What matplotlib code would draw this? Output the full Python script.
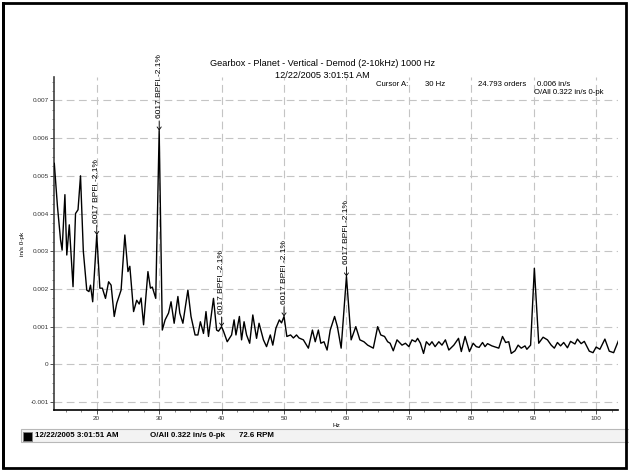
import matplotlib
matplotlib.use('Agg')
import matplotlib.pyplot as plt
from matplotlib.patches import Rectangle
from matplotlib.ticker import MultipleLocator, FuncFormatter
import numpy as np

plt.rcParams['font.family'] = ['Liberation Sans', 'DejaVu Sans']

# spectrum (Hz, in/s 0-pk)
freq_hz = [13.2, 13.7, 14.2, 14.45, 14.9, 15.2, 15.6, 16.2, 16.6, 17.0,
           17.4, 17.85, 18.4, 18.75, 19.0, 19.35, 20.0, 20.5, 20.9, 21.4,
           21.9, 22.3, 22.8, 23.2, 23.9, 24.5, 25.0, 25.3, 25.9, 26.4,
           26.8, 27.1, 27.5, 28.2, 28.6, 28.9, 29.45, 30.0, 30.5, 30.95,
           31.5, 31.9, 32.4, 33.0, 33.3, 33.8, 34.6, 35.1, 35.75, 36.2,
           36.6, 37.1, 37.5, 37.9, 38.7, 39.2, 39.5, 40.0, 40.3, 40.9,
           41.6, 42.0, 42.3, 42.85, 43.2, 43.6, 44.0, 44.5, 45.0, 45.6,
           46.0, 46.7, 47.2, 47.8, 48.2, 48.7, 49.25, 49.6, 50.0, 50.45,
           51.05, 51.5, 52.0, 52.4, 53.1, 53.9, 54.55, 55.0, 55.5, 55.9,
           56.4, 56.9, 57.4, 58.1, 58.55, 59.15, 60.0, 60.75, 61.5, 62.15,
           62.8, 63.4, 64.3, 65.0, 65.5, 66.1, 66.6, 67.0, 67.5, 68.1,
           68.9, 69.45, 70.0, 70.5, 71.05, 71.4, 71.85, 72.35, 72.8, 73.3,
           73.7, 74.2, 74.8, 75.3, 75.85, 76.4, 77.2, 77.95, 78.4, 79.0,
           79.7, 80.3, 80.8, 81.25, 81.8, 82.2, 82.6, 83.3, 84.4, 85.0,
           85.5, 86.0, 86.4, 87.0, 87.5, 88.0, 88.6, 88.9, 89.5, 90.1,
           90.8, 91.5, 92.2, 92.8, 93.3, 93.8, 94.3, 94.8, 95.4, 95.9,
           96.6, 97.0, 97.6, 98.1, 98.9, 99.5, 100.0, 100.6, 101.4, 102.1,
           102.8, 103.6]
amp_ips = [0.00533, 0.0042, 0.0033, 0.00303, 0.0045, 0.0029, 0.0037, 0.00206, 0.0040, 0.0041,
           0.0050, 0.0030, 0.00197, 0.00193, 0.0021, 0.00166, 0.00343, 0.00202, 0.00202, 0.00175,
           0.00219, 0.0021, 0.00127, 0.00162, 0.00197, 0.00343, 0.00246, 0.0026, 0.0014, 0.0017,
           0.0016, 0.00176, 0.00105, 0.00246, 0.00202, 0.00205, 0.00175, 0.0062, 0.00091, 0.00118,
           0.00136, 0.00166, 0.00109, 0.0018, 0.00136, 0.00109, 0.00197, 0.00127, 0.00078, 0.00078,
           0.00113, 0.00082, 0.0014, 0.00074, 0.00175, 0.00091, 0.00088, 0.0010, 0.00088, 0.0006,
           0.00078, 0.00118, 0.00078, 0.00127, 0.00065, 0.00113, 0.00078, 0.00056, 0.00131, 0.00069,
           0.00109, 0.00065, 0.00047, 0.00078, 0.00051, 0.00096, 0.00118, 0.0011, 0.00127, 0.00074,
           0.00078, 0.0007, 0.00078, 0.0007, 0.00065, 0.00043, 0.00091, 0.0006, 0.00091, 0.00056,
           0.0006, 0.00038, 0.00091, 0.00127, 0.001, 0.00043, 0.00233, 0.00065, 0.001, 0.00065,
           0.0006, 0.00051, 0.00043, 0.001, 0.00078, 0.00074, 0.0006, 0.00056, 0.00036, 0.00065,
           0.00051, 0.00056, 0.00047, 0.00065, 0.0006, 0.00069, 0.00056, 0.00029, 0.0006, 0.00051,
           0.0006, 0.00047, 0.0006, 0.00051, 0.00065, 0.00038, 0.00051, 0.00069, 0.00034, 0.00074,
           0.00034, 0.00056, 0.00047, 0.00045, 0.00058, 0.00047, 0.00055, 0.00049, 0.00043, 0.00074,
           0.00058, 0.0006, 0.00029, 0.00036, 0.00051, 0.00043, 0.00049, 0.0004, 0.00051, 0.00255,
           0.00056, 0.00072, 0.00065, 0.00051, 0.00043, 0.00058, 0.00049, 0.00058, 0.00044, 0.00061,
           0.00054, 0.00067, 0.00055, 0.00061, 0.00035, 0.00031, 0.00046, 0.0004, 0.00067, 0.00035,
           0.00031, 0.00064]

# fault frequency markers
marker_hz = [20, 30, 40, 50, 60]
marker_label = '6017 BPFI -2.1%'

title_1 = 'Gearbox - Planet - Vertical - Demod (2-10kHz) 1000 Hz'
title_2 = '12/22/2005 3:01:51 AM'
cursor_txt = ['Cursor A:', '30 Hz', '24.793 orders', '0.006 in/s']
overall_txt = 'O/All 0.322 in/s 0-pk'
legend_txt = ['12/22/2005 3:01:51 AM', 'O/All 0.322 in/s 0-pk', '72.6 RPM']

W, H = 629, 471
def fx(px): return px / W
def fy(py): return 1 - py / H

fig = plt.figure(figsize=(6.29, 4.71), dpi=100)
ax = fig.add_axes([fx(54.3), fy(410), fx(618) - fx(54.3), fy(77) - fy(410)])

ax.plot(freq_hz, amp_ips, color='black', lw=1.0, zorder=3)
ax.set_xlim(13.2, 103.5)
ax.set_ylim(-0.00121, 0.00762)

ax.xaxis.set_major_locator(MultipleLocator(10))
ax.xaxis.set_minor_locator(MultipleLocator(2.5))
ax.yaxis.set_major_locator(MultipleLocator(0.001))
ax.yaxis.set_minor_locator(MultipleLocator(0.00025))
ax.yaxis.set_major_formatter(FuncFormatter(lambda v, _: '0' if abs(v) < 1e-9 else f'{v:.3f}'))
ax.tick_params(which='major', direction='out', length=3, width=0.6, labelsize=4.6, pad=1,
               colors='#333333')
ax.tick_params(which='minor', direction='out', length=1.5, width=0.5, colors='#555555')
ax.grid(True, which='major', color='#c4c4c4', lw=0.8, linestyle=(0, (7, 4)))
ax.set_axisbelow(True)

for s in ['top', 'right']:
    ax.spines[s].set_visible(False)
ax.spines['left'].set_color('#404040')
ax.spines['left'].set_linewidth(1.2)
ax.spines['bottom'].set_color('black')
ax.spines['bottom'].set_linewidth(1.2)

ax.set_xlabel('Hz', fontsize=4.6, labelpad=2)
ax.set_ylabel('in/s 0-pk', fontsize=4.6, labelpad=4)

for f in marker_hz:
    v = np.interp(f, freq_hz, amp_ips)
    ax.annotate(marker_label, xy=(f, v), xytext=(0, 9), textcoords='offset points',
                rotation=90, ha='center', va='bottom', fontsize=6, zorder=4,
                arrowprops=dict(arrowstyle='->,head_length=0.35,head_width=0.25',
                                lw=0.6, color='black', shrinkA=0, shrinkB=0))

# header texts
fig.text(fx(322), fy(64), title_1, ha='center', va='center', fontsize=6.6)
fig.text(fx(322), fy(76), title_2, ha='center', va='center', fontsize=6.6)
fig.text(fx(408), fy(84), cursor_txt[0], ha='right', va='center', fontsize=5.6)
fig.text(fx(425), fy(84), cursor_txt[1], ha='left', va='center', fontsize=5.6)
fig.text(fx(478), fy(84), cursor_txt[2], ha='left', va='center', fontsize=5.6)
fig.text(fx(537), fy(84), cursor_txt[3], ha='left', va='center', fontsize=5.6)
fig.text(fx(534), fy(93), overall_txt, ha='left', va='center', fontsize=5.6)

# legend strip
fig.patches.append(Rectangle((fx(21), fy(442)), fx(629) - fx(21), fy(429) - fy(442),
                             transform=fig.transFigure, fc='#f3f3f3', ec='#b8b8b8', lw=0.8))
fig.patches.append(Rectangle((fx(23), fy(440.5)), fx(9), fy(432) - fy(440.5),
                             transform=fig.transFigure, fc='black', ec='#808080', lw=0.6))
fig.text(fx(35), fy(435.5), legend_txt[0], ha='left', va='center', fontsize=5.7, fontweight='bold')
fig.text(fx(150), fy(435.5), legend_txt[1], ha='left', va='center', fontsize=5.7, fontweight='bold')
fig.text(fx(239), fy(435.5), legend_txt[2], ha='left', va='center', fontsize=5.7, fontweight='bold')

# outer frame, heavier on the left like the original window
fig.patches.append(Rectangle((fx(3), fy(468)), fx(626) - fx(3), fy(3) - fy(468),
                             transform=fig.transFigure, fill=False, ec='black', lw=2))
fig.patches.append(Rectangle((fx(2), fy(469)), fx(3), fy(2) - fy(469),
                             transform=fig.transFigure, fc='black', ec='none'))

fig.savefig('out.png', dpi=100)
